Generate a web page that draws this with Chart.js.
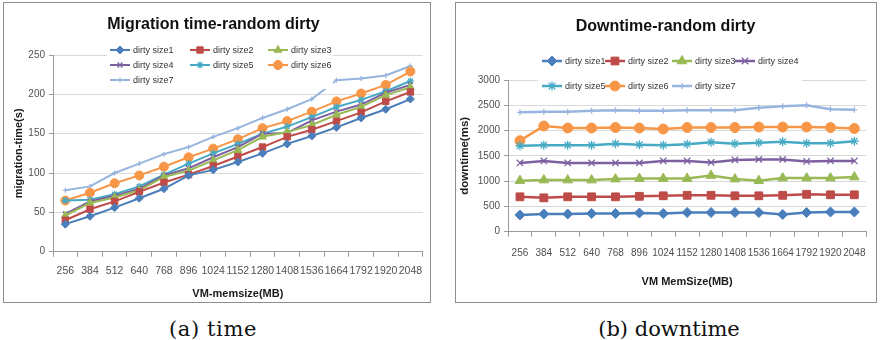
<!DOCTYPE html>
<html>
<head>
<meta charset="utf-8">
<script src="https://cdn.jsdelivr.net/npm/chart.js@4.4.1/dist/chart.umd.min.js"></script>
<style>
html,body{margin:0;padding:0;background:#fff;width:880px;height:340px;overflow:hidden;}
.box{position:absolute;border:1px solid #8e8e8e;background:#fff;box-sizing:border-box;}
.box canvas{display:block;}
.cap{position:absolute;font-family:"DejaVu Serif",serif;font-size:21px;line-height:21px;color:#111;white-space:nowrap;transform:translateX(-50%);}
</style>
</head>
<body>
<div class="box" style="left:3px;top:2px;width:428px;height:301px;"><canvas id="chartTime" width="426" height="299" style="width:426px;height:299px;"></canvas></div>
<div class="box" style="left:455px;top:2px;width:422px;height:301px;"><canvas id="chartDown" width="420" height="299" style="width:420px;height:299px;"></canvas></div>
<div class="cap" style="left:213px;top:319px;letter-spacing:0.6px;">(a) time</div>
<div class="cap" style="left:669px;top:319px;">(b) downtime</div>
<script>
// ---------------- data ----------------
const memSizes = ['256','384','512','640','768','896','1024','1152','1280','1408','1536','1664','1792','1920','2048'];
const seriesNames = ['dirty size1','dirty size2','dirty size3','dirty size4','dirty size5','dirty size6','dirty size7'];

// (a) migration time (s)
const migTime1 = [35, 45, 56, 68, 80, 97, 104, 114, 125, 137, 147, 158, 170, 181, 194];
const migTime2 = [40, 54, 64, 76, 88, 98, 109, 121, 133, 146, 155, 166, 177, 191, 203];
const migTime3 = [46, 62, 69, 78, 95, 103, 116, 129, 146, 152, 161, 174, 184, 199, 209];
const migTime4 = [48, 64, 71, 80, 97, 106, 120, 133, 150, 151, 167, 178, 187, 202, 212];
const migTime5 = [65, 66, 73, 83, 98, 112, 125, 137, 150, 159, 171, 184, 193, 204, 217];
const migTime6 = [65, 75, 87, 97, 108, 120, 131, 143, 157, 166, 178, 191, 201, 212, 229];
const migTime7 = [78, 83, 100, 112, 124, 133, 146, 157, 170, 181, 194, 218, 220, 224, 236];

// (b) downtime (ms)
const downtime1 = [330, 350, 350, 360, 360, 370, 360, 380, 380, 380, 380, 340, 380, 390, 390];
const downtime2 = [690, 670, 690, 690, 690, 700, 710, 720, 720, 710, 710, 720, 740, 730, 730];
const downtime3 = [1010, 1020, 1020, 1020, 1040, 1050, 1050, 1050, 1110, 1040, 1010, 1060, 1060, 1060, 1080];
const downtime4 = [1360, 1400, 1360, 1360, 1360, 1360, 1400, 1400, 1370, 1420, 1430, 1430, 1390, 1400, 1400];
const downtime5 = [1700, 1710, 1710, 1710, 1740, 1720, 1710, 1730, 1770, 1740, 1760, 1780, 1750, 1750, 1790];
const downtime6 = [1800, 2090, 2050, 2050, 2060, 2050, 2030, 2060, 2060, 2060, 2070, 2070, 2070, 2060, 2040];
const downtime7 = [2360, 2370, 2370, 2390, 2400, 2390, 2390, 2400, 2400, 2400, 2450, 2480, 2500, 2420, 2410];

const timeTicks = [0, 50, 100, 150, 200, 250];
const downTicks = [0, 500, 1000, 1500, 2000, 2500, 3000];

// ---------------- styles ----------------
const COLORS = ['#4A7EBB','#BE4B48','#98B954','#7D60A0','#46AAC5','#F79646','#97B5DE'];
const PSTYLE = ['rectRot','rect','triangle','crossRot','star','circle','cross'];
const AXIS = '#9a9a9a';
const TICK = '#505050';

function hasFont(f){
  const c = document.createElement('canvas').getContext('2d');
  const t = 'mmmmmmmmmmlliiWWWWdirty size 0123456789';
  c.font = '32px monospace'; const a = c.measureText(t).width;
  c.font = '32px "' + f + '", monospace'; const b = c.measureText(t).width;
  return Math.abs(a - b) > 0.5;
}
const NARROW = hasFont('Liberation Sans Narrow');
const TITLE_FONT = NARROW ? {family:'"Liberation Sans Narrow"', size:19.5, weight:'bold'}
                          : {family:'"Liberation Sans", Arial, sans-serif', size:16, weight:'bold'};
const LEGEND_FONT = NARROW ? '10.5px "Liberation Sans Narrow"' : '9px "Liberation Sans", Arial, sans-serif';
const SANS = '"Liberation Sans", Arial, sans-serif';

function drawMarker(ctx, style, x, y, r, color, bw){
  ctx.save();
  ctx.fillStyle = color; ctx.strokeStyle = color; ctx.lineWidth = bw;
  ctx.beginPath();
  const d = r * Math.SQRT1_2;
  switch (style) {
    case 'circle': ctx.arc(x, y, r, 0, Math.PI * 2); ctx.fill(); ctx.stroke(); break;
    case 'rect': ctx.rect(x - d, y - d, 2 * d, 2 * d); ctx.fill(); ctx.stroke(); break;
    case 'rectRot': ctx.moveTo(x, y - r); ctx.lineTo(x + r, y); ctx.lineTo(x, y + r); ctx.lineTo(x - r, y); ctx.closePath(); ctx.fill(); ctx.stroke(); break;
    case 'triangle': ctx.moveTo(x, y - r); ctx.lineTo(x + r * 0.866, y + r * 0.5); ctx.lineTo(x - r * 0.866, y + r * 0.5); ctx.closePath(); ctx.fill(); ctx.stroke(); break;
    case 'crossRot': ctx.moveTo(x - d, y - d); ctx.lineTo(x + d, y + d); ctx.moveTo(x + d, y - d); ctx.lineTo(x - d, y + d); ctx.stroke(); break;
    case 'star': ctx.moveTo(x - d, y - d); ctx.lineTo(x + d, y + d); ctx.moveTo(x + d, y - d); ctx.lineTo(x - d, y + d);
                 ctx.moveTo(x, y - r); ctx.lineTo(x, y + r); ctx.moveTo(x - r, y); ctx.lineTo(x + r, y); ctx.stroke(); break;
    case 'cross': ctx.moveTo(x, y - r); ctx.lineTo(x, y + r); ctx.moveTo(x - r, y); ctx.lineTo(x + r, y); ctx.stroke(); break;
  }
  ctx.restore();
}

// Excel-style legend drawn over the plot
const excelLegend = {
  id: 'excelLegend',
  afterDatasetsDraw(chart, args, opts) {
    const ctx = chart.ctx;
    ctx.save();
    if (opts.bg) { ctx.fillStyle = '#fff'; ctx.fillRect(opts.bg[0], opts.bg[1], opts.bg[2], opts.bg[3]); }
    ctx.font = LEGEND_FONT;
    ctx.textBaseline = 'middle';
    ctx.textAlign = 'left';
    chart.data.datasets.forEach((ds, i) => {
      const col = i % opts.perRow, row = Math.floor(i / opts.perRow);
      const x = opts.cols[col], y = opts.rows[row];
      ctx.strokeStyle = ds.borderColor; ctx.lineWidth = ds.borderWidth;
      ctx.beginPath(); ctx.moveTo(x, y); ctx.lineTo(x + opts.lineLen, y); ctx.stroke();
      drawMarker(ctx, ds.pointStyle, x + opts.lineLen / 2, y, ds.pointRadius, ds.borderColor, ds.pointBorderWidth);
      ctx.fillStyle = '#333';
      ctx.fillText(ds.label, x + opts.lineLen + 3, y + 0.5);
    });
    ctx.restore();
  }
};

function buildChart(id, series, o) {
  const datasets = series.map((vals, i) => ({
    label: seriesNames[i], data: vals,
    borderColor: COLORS[i], backgroundColor: COLORS[i],
    pointBackgroundColor: COLORS[i], pointBorderColor: COLORS[i],
    borderWidth: o.lineWidth, pointStyle: PSTYLE[i], pointRadius: o.radii[i],
    pointBorderWidth: (i === 3 || i === 4 || i === 6) ? 1.3 : 1,
    tension: 0, fill: false
  }));
  const S = TITLE_FONT.size, lh = S * 1.2;
  const tPadTop = o.titleCenter - lh / 2;
  const tPadBottom = o.areaTop - tPadTop - lh;
  return new Chart(document.getElementById(id), {
    type: 'line',
    data: { labels: memSizes, datasets },
    options: {
      responsive: false, animation: false, devicePixelRatio: 1,
      layout: { padding: { left: 0, right: o.padRight, top: 0, bottom: 0 } },
      plugins: {
        legend: { display: false },
        tooltip: { enabled: false },
        title: { display: true, text: o.title, color: '#111', font: TITLE_FONT,
                 padding: { top: tPadTop, bottom: tPadBottom } },
        excelLegend: o.legend
      },
      scales: {
        x: {
          type: 'category', offset: true,
          grid: { display: true, drawOnChartArea: false, drawTicks: true, tickLength: 5, offset: true, tickColor: AXIS, color: AXIS },
          border: { display: true, color: AXIS, width: 1 },
          ticks: { color: TICK, font: { family: SANS, size: o.xTickSize }, padding: o.xTickPad, maxRotation: 0, minRotation: 0, autoSkip: false },
          title: { display: true, text: o.xTitle, color: '#1a1a1a', font: { family: SANS, size: 11, weight: 'bold' },
                   padding: { top: 0, bottom: o.xTitlePadB } },
          afterFit: (s) => { s.height = o.xHeight; }
        },
        y: {
          min: o.yTicks[0], max: o.yTicks[o.yTicks.length - 1],
          afterBuildTicks: (s) => { s.ticks = o.yTicks.map(v => ({ value: v })); },
          ticks: { color: TICK, font: { family: SANS, size: 10 }, padding: 4, callback: (v) => String(v) },
          grid: { color: '#d9d9d9', lineWidth: 1, drawTicks: true, tickLength: 4, tickColor: AXIS },
          border: { display: true, color: AXIS, width: 1 },
          title: { display: true, text: o.yTitle, color: '#1a1a1a', font: { family: SANS, size: o.yTitleSize, weight: 'bold' },
                   padding: { top: o.yTitlePadT, bottom: 0 } },
          afterFit: (s) => { s.width = o.yWidth; }
        }
      }
    },
    plugins: [excelLegend]
  });
}

buildChart('chartTime',
  [migTime1, migTime2, migTime3, migTime4, migTime5, migTime6, migTime7], {
  title: 'Migration time-random dirty',
  xTitle: 'VM-memsize(MB)', yTitle: 'migration-time(s)',
  yTicks: timeTicks,
  lineWidth: 2, radii: [4, 4.5, 4.5, 3.5, 3.5, 4.5, 2.5],
  titleCenter: 22, areaTop: 52, padRight: 7,
  yWidth: 49, yTitleSize: 11, yTitlePadT: 8.4,
  xHeight: 50.3, xTitlePadB: 1.4, xTickPad: 7.7, xTickSize: 10.5,
  legend: { perRow: 3, cols: [106, 186, 264], rows: [47, 62, 77], lineLen: 20, bg: [103, 40, 226, 46] }
});

buildChart('chartDown',
  [downtime1, downtime2, downtime3, downtime4, downtime5, downtime6, downtime7], {
  title: 'Downtime-random dirty',
  xTitle: 'VM MemSize(MB)', yTitle: 'downtime(ms)',
  yTicks: downTicks,
  lineWidth: 2.5, radii: [5, 5.5, 5.5, 4.5, 4.5, 5, 3],
  titleCenter: 24, areaTop: 77, padRight: 1,
  yWidth: 52, yTitleSize: 11.5, yTitlePadT: 2.1,
  xHeight: 70.3, xTitlePadB: 13.4, xTickPad: 10.3, xTickSize: 10,
  legend: { perRow: 4, cols: [86, 149, 216, 279], rows: [58, 83], lineLen: 20, bg: [82, 46, 264, 47] }
});
</script>
</body>
</html>
